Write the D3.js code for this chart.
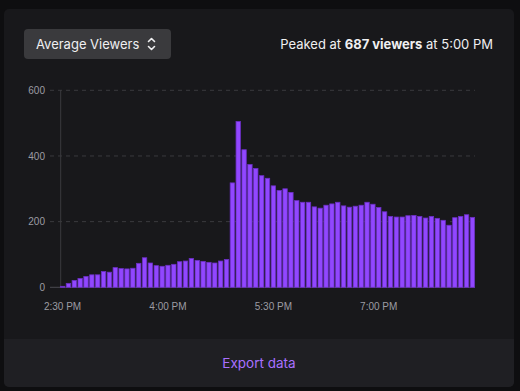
<!DOCTYPE html>
<html>
<head>
<meta charset="utf-8">
<script src="https://cdn.jsdelivr.net/npm/d3@7"></script>
<style>
  html, body { margin: 0; padding: 0; background: #0e0e10; }
  body { width: 520px; height: 391px; overflow: hidden; }
</style>
</head>
<body>
<div id="chart"></div>
<script>
// average viewers, one bar per 5 minutes starting 2:30 PM
const startTime = new Date(2024, 0, 1, 14, 30);
const viewers = [3, 12, 21, 27, 33, 38, 38, 48, 46, 60,
  57, 56, 58, 73, 90, 74, 66, 64, 67, 70,
  78, 80, 88, 82, 79, 76, 74, 80, 85, 318,
  505, 419, 374, 362, 340, 332, 309, 295, 300, 289,
  264, 259, 259, 245, 241, 250, 254, 259, 248, 244,
  247, 250, 259, 253, 243, 230, 216, 214, 214, 218,
  219, 216, 211, 216, 210, 204, 189, 212, 216, 221, 213];
const yTicks = [0, 200, 400, 600];
const xTickEvery = 18;

const times = viewers.map((v, i) => d3.timeMinute.offset(startTime, i * 5));
const fmt = d3.timeFormat("%-I:%M %p");

const W = 520, H = 391;
const svg = d3.select("#chart").append("svg")
    .attr("width", W).attr("height", H);

// card
svg.append("rect").attr("x", 4).attr("y", 9).attr("width", 510).attr("height", 378)
    .attr("rx", 5).attr("fill", "#18181b");
svg.append("path")
    .attr("d", "M4,339 H514 V382 a5,5 0 0 1 -5,5 H9 a5,5 0 0 1 -5,-5 Z")
    .attr("fill", "#1f1f23");

// metric button
svg.append("rect").attr("x", 24).attr("y", 29).attr("width", 147).attr("height", 30)
    .attr("rx", 4).attr("fill", "#3a3a3d");
svg.append("text").attr("x", 36).attr("y", 49)
    .attr("font-family", "Inter").attr("font-size", 13).attr("fill", "#efeff1")
    .text("Average Viewers");
const chev = svg.append("g").attr("fill", "none").attr("stroke", "#efeff1")
    .attr("stroke-width", 1.6).attr("stroke-linecap", "round").attr("stroke-linejoin", "round");
chev.append("path").attr("d", "M148.5,41.5 L151.5,38.5 L154.5,41.5");
chev.append("path").attr("d", "M148.5,46.5 L151.5,49.5 L154.5,46.5");

// peak text
const peak = svg.append("text").attr("x", 493).attr("y", 49).attr("text-anchor", "end")
    .attr("font-family", "Inter").attr("font-size", 13).attr("fill", "#efeff1");
peak.append("tspan").text("Peaked at ");
peak.append("tspan").attr("font-weight", "bold").text("687 viewers");
peak.append("tspan").text(" at 5:00 PM");

// scales
const x = d3.scaleBand()
    .domain(times)
    .range([59.8, 475.2])
    .paddingInner(0.25)
    .paddingOuter(0.1);
const y = d3.scaleLinear().domain([0, 600]).range([287.3, 90.3]);

// gridlines
const grid = svg.append("g");
grid.selectAll("line").data(yTicks).join("line")
    .attr("x1", 50).attr("x2", 475)
    .attr("y1", d => y(d)).attr("y2", d => y(d))
    .attr("stroke", d => d === 0 ? "#4a4a50" : "#3a3a3e")
    .attr("stroke-dasharray", d => d === 0 ? null : "4,4");

// y axis line
svg.append("line").attr("x1", 60.7).attr("x2", 60.7).attr("y1", 90).attr("y2", 287.3)
    .attr("stroke", "#3a3a3e");

// y labels
const yAxis = d3.axisLeft(y).tickValues(yTicks).tickSize(0).tickPadding(0);
svg.append("g").attr("transform", "translate(45,0)").call(yAxis)
    .call(g => g.select(".domain").remove())
    .selectAll("text")
    .attr("font-family", "Liberation Sans").attr("font-size", 10).attr("fill", "#9c9ca3");

// bars
svg.append("g").selectAll("rect").data(viewers).join("rect")
    .attr("x", (d, i) => x(times[i]))
    .attr("width", x.bandwidth())
    .attr("y", d => y(d))
    .attr("height", d => y(0) - y(d))
    .attr("fill", "#9147ff")
    .attr("stroke", "#6b2fc4")
    .attr("stroke-width", 0.8);

// x labels
const xAxis = d3.axisBottom(x)
    .tickValues(times.filter((t, i) => i % xTickEvery === 0))
    .tickFormat(fmt).tickSize(0).tickPadding(0);
svg.append("g").attr("transform", "translate(0,303)").call(xAxis)
    .call(g => g.select(".domain").remove())
    .selectAll("text")
    .attr("font-family", "Liberation Sans").attr("font-size", 10).attr("fill", "#9c9ca3");

// export link
svg.append("text").attr("x", 259).attr("y", 368).attr("text-anchor", "middle")
    .attr("font-family", "Inter").attr("font-size", 13.5).attr("fill", "#a970ff")
    .text("Export data");
</script>
</body>
</html>
